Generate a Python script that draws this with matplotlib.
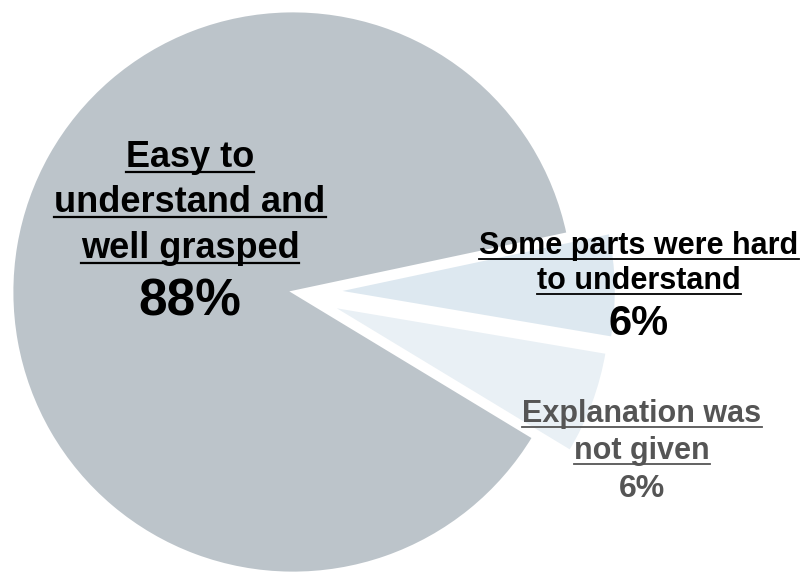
import matplotlib
matplotlib.use("Agg")
import matplotlib.pyplot as plt
from matplotlib.lines import Line2D

plt.rcParams['font.family'] = ['Liberation Sans', 'DejaVu Sans']

# survey answers
labels = ["Easy to understand and well grasped",
          "Some parts were hard to understand",
          "Explanation was not given"]
shares = [88, 6, 6]
colors = ["#bcc4ca", "#dde8f0", "#e9f0f5"]
explode = [0, 0.15, 0.14]

# label text, split into lines: (line, fontsize, underlined)
label_lines = [
    [("Easy to", 26, True), ("understand and", 26, True),
     ("well grasped", 26, True), (f"{shares[0]}%", 37, False)],
    [("Some parts were hard", 22, True), ("to understand", 22, True),
     (f"{shares[1]}%", 30, False)],
    [("Explanation was", 22, True), ("not given", 22, True),
     (f"{shares[2]}%", 23, False)],
]
label_colors = ["black", "black", "#555555"]
# centre x and baselines of each line, in pixels from top-left
label_x = [190, 639, 642]
label_baselines = [[167, 212, 258, 315], [254, 289, 335], [422, 459, 497]]

W, H = 812, 573
fig = plt.figure(figsize=(W / 100, H / 100), dpi=100)
ax = fig.add_axes([0, 0, 1, 1])

cx, cy, r = 293, 292, 281
ax.pie(shares, colors=colors, explode=explode, startangle=-31.2,
       counterclock=False, radius=1,
       wedgeprops=dict(edgecolor="white", linewidth=2))
ax.set_xlim(-cx / r, (W - cx) / r)
ax.set_ylim(-(H - cy) / r, cy / r)
ax.set_aspect("auto")
ax.axis("off")

texts = []
for lines, x, ys, col in zip(label_lines, label_x, label_baselines, label_colors):
    for (s, size, under), y in zip(lines, ys):
        t = fig.text(x / W, 1 - y / H, s, ha="center", va="baseline",
                     fontsize=size, fontweight="bold", color=col)
        if under:
            texts.append((t, y, size, col))

# underline the label lines
fig.canvas.draw()
renderer = fig.canvas.get_renderer()
for t, y, size, col in texts:
    bb = t.get_window_extent(renderer)
    uy = 1 - (y + 5) / H
    fig.add_artist(Line2D([bb.x0 / W, bb.x1 / W], [uy, uy],
                          transform=fig.transFigure, color=col,
                          linewidth=1.6 if size > 24 else 1.3))

fig.savefig("out.png", dpi=100)
